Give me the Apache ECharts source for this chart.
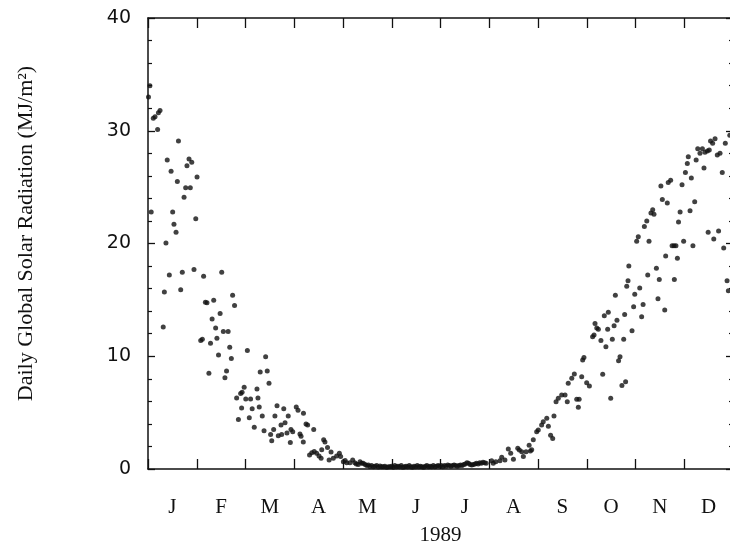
<!DOCTYPE html>
<html>
<head>
<meta charset="utf-8">
<script src="https://cdn.jsdelivr.net/npm/echarts@6/dist/echarts.min.js"></script>
<style>
html,body{margin:0;padding:0;background:#fff;overflow:hidden;}
#chart{width:733px;height:552px;}
</style>
</head>
<body>
<div id="chart"></div>
<script>
// Month category labels (centred between month boundaries)
const monthLabels = ['J','F','M','A','M','J','J','A','S','O','N','D'];
const yearLabel = '1989';
const yAxisTitle = 'Daily Global Solar Radiation (MJ/m\u00B2)';
const yTickValues = [0, 10, 20, 30, 40];

// Day of year
const dayOfYear = [
  0.3,1.2,2.0,3.3,4.4,6.0,6.5,7.5,9.5,10.2,11.2,12.0,13.3,14.4,15.4,16.2,17.5,18.3,19.0,20.4,21.4,22.5,23.5,24.3,25.6,26.4,27.3,28.7,29.8,30.6,
  32.9,33.9,34.7,35.8,36.8,38.0,39.0,40.0,41.0,42.2,43.0,44.0,45.0,46.0,47.0,48.0,49.0,50.0,51.0,52.0,52.8,54.0,55.3,56.4,57.8,58.4,58.7,
  60.0,61.0,62.0,63.2,64.0,65.0,66.3,68.0,68.6,69.4,70.0,71.3,72.4,73.4,74.4,75.5,76.5,77.2,78.4,79.2,80.5,81.3,83.0,83.4,84.7,85.5,86.7,87.5,88.8,89.2,90.3,
  92.5,93.6,94.8,95.5,96.9,97.0,98.6,99.6,100.8,102.2,103.4,103.7,105.2,106.7,108.0,108.4,109.6,110.4,112.0,113.0,114.2,115.6,117.7,119.4,120.2,
  121.9,123.0,124.0,126.0,127.7,129.0,130.0,131.2,132.3,133.3,134.3,135.5,136.5,137.5,138.5,139.5,140.6,141.6,142.7,143.7,144.8,145.8,146.8,147.8,148.9,150.0,
  151,152,153,154,155,156,157,158,159,160,161,162,163,164,165,166,167,168,169,170,171,172,173,174,175,176,177,178,179,180,181,
  182,183,184,185,186,187,188,189,190,191,192,193,194,195,196,197,198,199,200,201,202,203,204,205,206,207,208,209,210,
  211,214.4,215.4,217,219.6,220.7,222.7,224.8,226.3,228,230.7,231.7,233.2,234.2,235.9,237.8,238.6,239.4,
  240.4,242.5,243.5,245.6,246.6,248.8,249.8,251.2,252.5,253.3,254.6,256,258.1,260.2,261.6,262.2,264.4,266,267.5,268.5,269,
  270.6,271.2,272,273.7,275.4,277.4,278.3,278.9,280,281,282.6,283.7,284.7,285.7,286.8,287.2,288.7,289.7,290.8,291.6,292.6,293.6,294.5,295.7,296.8,297.4,298,298.7,299.5,300,
  302,303,303.7,304.9,305.9,306.8,308,308.9,309.7,311.2,311.8,312.6,313.8,314.9,315.7,317.2,318.2,319,320,320.9,322.4,323,324,324.6,326.1,327,328.2,328.4,329.4,
  330.3,331,332,333.2,334.2,335.3,336.5,337.1,338.2,339,340,341.1,342,343,344.4,345.9,346.9,347.5,349,349.5,350.2,351,352.3,353,353.8,355.2,356,356.9,358.3,359.2,360.2,361.3,362.1,363
];

// Daily global solar radiation, MJ/m2
const radiation = [
  33.0,34.0,22.8,31.1,31.25,30.1,31.6,31.8,12.6,15.7,20.05,27.4,17.2,26.4,22.8,21.7,21.0,25.5,29.1,15.9,17.45,24.1,24.95,26.9,27.5,24.95,27.2,17.7,22.2,25.9,
  11.4,11.5,17.1,14.8,14.75,8.5,11.15,13.3,14.96,12.5,11.6,10.1,13.8,17.45,12.2,8.1,8.7,12.2,10.8,9.8,15.4,14.5,6.3,4.4,6.7,5.4,6.8,
  7.25,6.2,10.5,4.55,6.2,5.35,3.7,7.1,6.3,5.5,8.6,4.7,3.4,9.96,8.7,7.6,3.05,2.5,3.5,4.7,5.6,2.95,3.9,3.05,5.35,4.1,3.2,4.7,2.35,3.5,3.3,
  5.5,5.2,3.1,2.9,2.4,4.95,4.0,3.9,1.25,1.45,3.5,1.55,1.4,1.15,0.95,1.7,2.6,2.4,1.9,0.8,1.5,0.95,1.15,1.4,1.1,
  0.65,0.75,0.55,0.56,0.8,0.55,0.44,0.4,0.65,0.5,0.5,0.4,0.3,0.35,0.22,0.3,0.2,0.25,0.3,0.18,0.27,0.2,0.2,0.25,0.15,0.2,
  0.2,0.25,0.15,0.3,0.2,0.25,0.2,0.3,0.15,0.2,0.25,0.2,0.3,0.2,0.15,0.25,0.2,0.3,0.2,0.25,0.2,0.15,0.25,0.3,0.2,0.25,0.2,0.3,0.2,0.25,0.3,
  0.25,0.3,0.2,0.3,0.25,0.35,0.3,0.25,0.3,0.35,0.3,0.25,0.3,0.35,0.3,0.4,0.45,0.55,0.5,0.4,0.35,0.4,0.45,0.5,0.45,0.55,0.5,0.6,0.55,
  0.5,0.74,0.5,0.65,0.73,1.04,0.8,1.77,1.4,0.86,1.84,1.69,1.53,1.1,1.53,2.1,1.6,1.7,
  2.6,3.3,3.45,3.9,4.2,4.5,3.8,3.0,2.7,4.7,5.97,6.27,6.56,6.56,5.97,7.6,8.04,8.43,6.18,5.47,6.18,
  8.19,9.67,9.9,7.65,7.36,11.73,11.88,12.9,12.5,12.4,11.4,8.4,13.6,10.85,12.4,13.9,6.27,11.5,12.7,15.4,13.2,9.6,9.96,7.4,11.5,13.7,7.74,16.2,16.7,18.0,
  12.27,14.4,15.5,20.2,20.6,16.05,13.5,14.6,21.5,22.0,17.2,20.2,22.7,23.0,22.6,17.8,15.1,16.8,25.1,23.9,14.1,18.9,23.6,25.4,25.6,19.8,19.8,16.8,19.8,
  18.7,21.9,22.8,25.2,20.2,26.3,27.1,27.7,22.9,25.8,19.8,23.7,27.4,28.4,28.0,28.4,26.7,28.1,28.2,21.0,28.3,29.1,28.9,20.4,29.3,27.85,21.1,28.0,26.3,19.6,28.9,16.7,15.8,29.6
];

const points = dayOfYear.map((d, i) => [d, radiation[i]]);

const ink = '#111';
const serif = '"Liberation Serif", "Times New Roman", serif';
const sans = '"DejaVu Sans", sans-serif';

const monthAxisCommon = {
  type: 'value', min: 0, max: 365, interval: 365 / 12,
  axisLine: { show: true, onZero: false, lineStyle: { color: ink, width: 1.5 } },
  axisTick: { show: true, inside: true, length: 10, lineStyle: { color: ink, width: 1.3 } },
  axisLabel: { show: false },
  splitLine: { show: false }
};
const valAxisCommon = {
  type: 'value', min: 0, max: 40, interval: 10,
  axisLine: { show: true, onZero: false, lineStyle: { color: ink, width: 1.5 } },
  axisTick: { show: true, inside: true, length: 7, lineStyle: { color: ink, width: 1.3 } },
  minorTick: { show: true, splitNumber: 5, length: 4, lineStyle: { color: ink, width: 1.2 } },
  splitLine: { show: false }
};

const chart = echarts.init(document.getElementById('chart'), null, { renderer: 'canvas' });
chart.setOption({
  animation: false,
  backgroundColor: '#fff',
  grid: { left: 148, right: 0, top: 18, bottom: 83, containLabel: false },
  xAxis: [
    Object.assign({}, monthAxisCommon, { position: 'bottom' }),
    Object.assign({}, monthAxisCommon, { position: 'top' }),
    {
      type: 'category', data: monthLabels, position: 'bottom', boundaryGap: true,
      axisLine: { show: false, onZero: false }, axisTick: { show: false }, splitLine: { show: false },
      axisLabel: { show: true, margin: 28, color: ink, fontFamily: serif, fontSize: 21 },
      name: yearLabel, nameLocation: 'middle', nameGap: 56,
      nameTextStyle: { color: ink, fontFamily: serif, fontSize: 21 }
    }
  ],
  yAxis: [
    Object.assign({}, valAxisCommon, {
      position: 'left',
      axisLabel: {
        show: true, margin: 17, color: ink, fontFamily: sans, fontSize: 19,
        formatter: v => (yTickValues.indexOf(v) >= 0 ? String(v) : '')
      },
      name: yAxisTitle, nameLocation: 'middle', nameGap: 111, nameRotate: 90,
      nameTextStyle: { color: ink, fontFamily: serif, fontSize: 22, padding: [0, 0, 0, 20] }
    }),
    Object.assign({}, valAxisCommon, { position: 'right', axisLabel: { show: false } })
  ],
  series: [{
    type: 'scatter',
    xAxisIndex: 0, yAxisIndex: 0,
    data: points,
    symbol: 'circle', symbolSize: 5,
    itemStyle: { color: ink },
    silent: true
  }]
});
</script>
</body>
</html>
